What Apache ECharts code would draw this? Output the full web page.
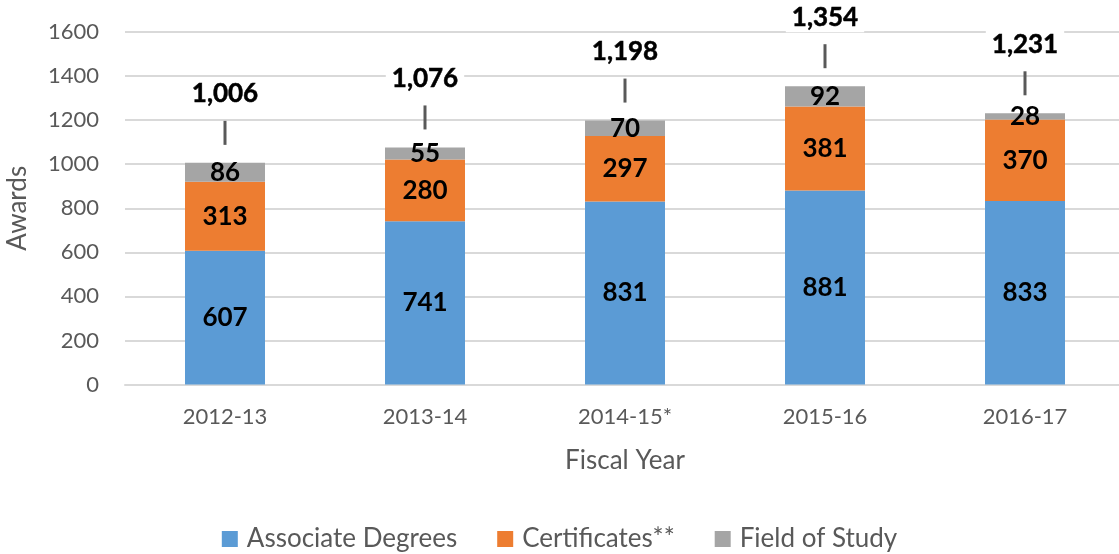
<!DOCTYPE html>
<html style="height: 100%">
    <head>
        <meta charset="utf-8">
    </head>
    <body style="height: 100%; margin: 0">
        <div id="container" style="width: 1119px; height: 554px"></div>

        <script type="text/javascript" src="https://cdn.jsdelivr.net/npm/echarts@6/dist/echarts.min.js"></script>

        <script type="text/javascript">
var dom = document.getElementById("container");
var myChart = echarts.init(dom);

var years = ['2012-13', '2013-14', '2014-15*', '2015-16', '2016-17'];
var associate = [607, 741, 831, 881, 833];
var certificates = [313, 280, 297, 381, 370];
var fieldOfStudy = [86, 55, 70, 92, 28];
var totals = [1006, 1076, 1198, 1354, 1231];
var yTicks = [0, 200, 400, 600, 800, 1000, 1200, 1400, 1600];

var font = 'Lato';
var segLabel = {
    show: true,
    position: 'inside',
    color: '#000',
    fontFamily: font,
    fontWeight: 'bold',
    fontSize: 26
};

var option = {
    textStyle: { fontFamily: font },
    animation: false,
    grid: {
        left: 125,
        width: 1000,
        top: 32,
        bottom: 169.5,
        outerBoundsMode: 'none'
    },
    legend: {
        bottom: -3,
        left: 'center',
        itemWidth: 16,
        itemHeight: 16,
        itemGap: 40,
        icon: 'rect',
        textStyle: { color: '#595959', fontSize: 26, fontFamily: font, padding: [0, 0, 0, 4] },
        data: ['Associate Degrees', 'Certificates**', 'Field of Study']
    },
    xAxis: {
        type: 'category',
        data: years,
        name: 'Fiscal Year',
        nameLocation: 'middle',
        nameGap: 63,
        nameTextStyle: { color: '#595959', fontSize: 26 },
        axisTick: { show: false },
        axisLine: { lineStyle: { color: '#d9d9d9', width: 2 } },
        axisLabel: { color: '#595959', fontSize: 22, margin: 21 }
    },
    yAxis: {
        type: 'value',
        min: yTicks[0],
        max: yTicks[yTicks.length - 1],
        interval: 200,
        name: 'Awards',
        nameLocation: 'middle',
        nameGap: 94,
        nameTextStyle: { color: '#595959', fontSize: 26 },
        axisLabel: {
            color: '#595959',
            fontSize: 22,
            margin: 26,
            formatter: function (v) { return String(v); }
        },
        splitLine: { lineStyle: { color: '#d9d9d9', width: 2 } }
    },
    series: [
        {
            name: 'Associate Degrees',
            type: 'bar',
            stack: 'awards',
            barWidth: 80,
            data: associate,
            itemStyle: { color: '#5B9BD5' },
            label: segLabel
        },
        {
            name: 'Certificates**',
            type: 'bar',
            stack: 'awards',
            data: certificates,
            itemStyle: { color: '#ED7D31' },
            label: segLabel
        },
        {
            name: 'Field of Study',
            type: 'bar',
            stack: 'awards',
            data: fieldOfStudy,
            itemStyle: { color: '#A5A5A5' },
            label: segLabel
        },
        {
            // totals with a short leader line
            name: 'Total',
            type: 'scatter',
            data: totals,
            symbol: 'rect',
            symbolSize: [3, 24],
            symbolOffset: [0, -30],
            itemStyle: { color: '#595959', opacity: 1 },
            silent: true,
            z: 5,
            label: {
                show: true,
                position: 'top',
                distance: 12,
                backgroundColor: '#fff',
                padding: [2, 6],
                formatter: function (p) {
                    return '{t|' + p.value.toLocaleString('en-US') + '}';
                },
                rich: {
                    t: {
                        color: '#000',
                        fontFamily: font,
                        fontWeight: 'bold',
                        fontSize: 26,
                        textBorderColor: '#000',
                        textBorderWidth: 0.5
                    }
                }
            }
        }
    ]
};

myChart.setOption(option);
        </script>
    </body>
</html>
